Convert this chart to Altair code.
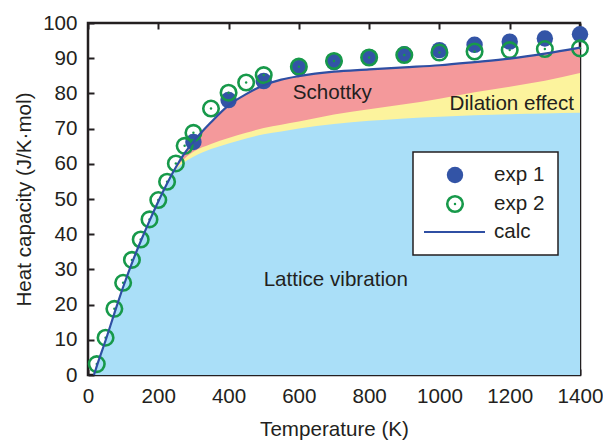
import altair as alt
import pandas as pd

# ---- data ----
T_calc = [17, 25, 50, 75, 100, 125, 150, 175, 200, 225, 250, 275, 300, 350, 400,
          450, 500, 550, 600, 700, 800, 900, 1000, 1100, 1200, 1300, 1400]
calc = [0, 2.5, 9.8, 17.5, 25.0, 31.8, 38.0, 43.8, 49.3, 54.4, 59.0, 63.0, 66.3,
        71.8, 76.6, 79.8, 82.3, 83.9, 84.9, 86.2, 86.8, 87.4, 88.0, 88.9, 89.9, 91.3, 93.0]
lattice_dilation = [0, 2.5, 9.8, 17.5, 25.0, 31.8, 38.0, 43.8, 49.3, 54.4, 58.8, 61.5,
                    63.4, 65.6, 67.3, 68.8, 70.2, 71.1, 72.0, 74.0, 75.5, 76.9, 78.5,
                    80.3, 81.9, 83.6, 85.8]
lattice = [0, 2.5, 9.8, 17.5, 25.0, 31.8, 38.0, 43.8, 49.3, 54.3, 58.3, 60.5, 62.0,
           64.2, 65.8, 67.2, 68.4, 69.2, 70.0, 71.3, 72.2, 72.9, 73.4, 73.8, 74.1, 74.3, 74.5]

T_exp1 = [300, 400, 500, 600, 700, 800, 900, 1000, 1100, 1200, 1300, 1400]
exp1 = [66.2, 78.1, 83.5, 87.2, 88.9, 90.3, 91.1, 92.3, 93.8, 94.7, 95.6, 96.8]

T_exp2 = [25, 50, 75, 100, 125, 150, 175, 200, 225, 250, 275, 300, 350, 400, 450, 500,
          600, 700, 800, 900, 1000, 1100, 1200, 1300, 1400]
exp2 = [3.1, 10.6, 18.8, 26.2, 32.7, 38.5, 44.2, 49.7, 54.9, 60.1, 65.1, 68.8, 75.7,
        80.2, 83.1, 85.2, 87.6, 89.2, 90.2, 90.9, 91.6, 91.9, 92.3, 92.6, 92.8]

ann_center_text = ["Schottky", "Lattice vibration"]
ann_center_T = [695, 705]
ann_center_v = [80.1, 27.1]
ann_right_text = ["Dilation effect"]
ann_right_T = [1383]
ann_right_v = [77.0]

x_ticks = [0, 200, 400, 600, 800, 1000, 1200, 1400]
y_ticks = [0, 10, 20, 30, 40, 50, 60, 70, 80, 90, 100]

# ---- styling ----
dark = "#231f20"
font = "Liberation Sans"
fs = 20.6
c_pink = "#f4999b"
c_yellow = "#fcf39d"
c_blue = "#aadff8"
c_line = "#2f4fa3"
c_exp1 = "#3354a6"
c_exp2 = "#17994a"

df_calc = pd.DataFrame({"T": T_calc, "calc": calc, "ld": lattice_dilation, "lat": lattice})
df_e1 = pd.DataFrame({"T": T_exp1, "v": exp1})
df_e2 = pd.DataFrame({"T": T_exp2, "v": exp2})
df_annc = pd.DataFrame({"T": ann_center_T, "v": ann_center_v, "label": ann_center_text})
df_annr = pd.DataFrame({"T": ann_right_T, "v": ann_right_v, "label": ann_right_text})
one = pd.DataFrame({"a": [0]})

xs = alt.Scale(domain=[0, 1400], nice=False, zero=False)
ys = alt.Scale(domain=[0, 100], nice=False)

axis_common = dict(domain=False, grid=False, ticks=True, tickSize=6, tickWidth=2,
                   tickColor=dark, offset=-6, labelFont=font, labelFontSize=fs,
                   labelColor=dark, titleFont=font, titleFontSize=fs,
                   titleFontWeight="normal", titleColor=dark, labelOverlap=False,
                   labelFlush=False, format="d")

x_bottom = alt.Axis(orient="bottom", values=x_ticks, title="Temperature (K)",
                    labelPadding=11, titlePadding=13, **axis_common)
x_top = alt.Axis(orient="top", values=x_ticks, labels=False, title=None, **axis_common)
y_left = alt.Axis(orient="left", values=y_ticks, title="Heat capacity (J/K·mol)",
                  labelPadding=11, titlePadding=8, **axis_common)

pink = alt.Chart(df_calc).mark_area(color=c_pink, interpolate="monotone").encode(
    x=alt.X("T:Q", scale=xs, axis=x_bottom),
    y=alt.Y("calc:Q", scale=ys, axis=y_left),
)
yellow = alt.Chart(df_calc).mark_area(color=c_yellow, interpolate="monotone").encode(
    x=alt.X("T:Q", scale=xs, axis=None),
    y=alt.Y("ld:Q", scale=ys, axis=None),
)
blue = alt.Chart(df_calc).mark_area(color=c_blue, interpolate="monotone").encode(
    x=alt.X("T:Q", scale=xs, axis=x_top),
    y=alt.Y("lat:Q", scale=ys, axis=None),
)
line = alt.Chart(df_calc).mark_line(color=c_line, strokeWidth=2.2, interpolate="monotone").encode(
    x=alt.X("T:Q", scale=xs, axis=None),
    y=alt.Y("calc:Q", scale=ys, axis=None),
)
p1 = alt.Chart(df_e1).mark_circle(color=c_exp1, size=270, opacity=1).encode(
    x=alt.X("T:Q", scale=xs, axis=None),
    y=alt.Y("v:Q", scale=ys, axis=None),
)
p2 = alt.Chart(df_e2).mark_point(shape="circle", color=c_exp2, size=240, strokeWidth=2.6,
                                 filled=False, opacity=1).encode(
    x=alt.X("T:Q", scale=xs, axis=None),
    y=alt.Y("v:Q", scale=ys, axis=None),
)
p2dot = alt.Chart(df_e2).mark_circle(color=c_exp2, size=6, opacity=1).encode(
    x=alt.X("T:Q", scale=xs, axis=None),
    y=alt.Y("v:Q", scale=ys, axis=None),
)
annc = alt.Chart(df_annc).mark_text(font=font, fontSize=fs, color=dark, baseline="middle",
                                    align="center").encode(
    x=alt.X("T:Q", scale=xs, axis=None),
    y=alt.Y("v:Q", scale=ys, axis=None),
    text="label:N",
)
annr = alt.Chart(df_annr).mark_text(font=font, fontSize=fs, color=dark, baseline="middle",
                                    align="right").encode(
    x=alt.X("T:Q", scale=xs, axis=None),
    y=alt.Y("v:Q", scale=ys, axis=None),
    text="label:N",
)

# ---- legend box (drawn in pixel space) ----
leg_box = alt.Chart(one).mark_rect(fill="white", stroke=dark, strokeWidth=1.5).encode(
    x=alt.value(325), x2=alt.value(470), y=alt.value(129), y2=alt.value(232))
leg_p1 = alt.Chart(one).mark_circle(color=c_exp1, size=270, opacity=1).encode(
    x=alt.value(367), y=alt.value(152))
leg_p2 = alt.Chart(one).mark_point(shape="circle", color=c_exp2, size=240, strokeWidth=2.6,
                                   filled=False, opacity=1).encode(x=alt.value(367), y=alt.value(181))
leg_p2d = alt.Chart(one).mark_circle(color=c_exp2, size=6, opacity=1).encode(
    x=alt.value(367), y=alt.value(181))
leg_line = alt.Chart(one).mark_rule(color=c_line, strokeWidth=2.2).encode(
    x=alt.value(336), x2=alt.value(397), y=alt.value(209))
leg_t1 = alt.Chart(one).mark_text(font=font, fontSize=fs, color=dark, align="left",
                                  baseline="middle").encode(
    x=alt.value(406), y=alt.value(152), text=alt.value("exp 1"))
leg_t2 = alt.Chart(one).mark_text(font=font, fontSize=fs, color=dark, align="left",
                                  baseline="middle").encode(
    x=alt.value(406), y=alt.value(181), text=alt.value("exp 2"))
leg_t3 = alt.Chart(one).mark_text(font=font, fontSize=fs, color=dark, align="left",
                                  baseline="middle").encode(
    x=alt.value(406), y=alt.value(209), text=alt.value("calc"))

chart = alt.layer(
    pink, yellow, blue, p1, p2, p2dot, line, annc, annr,
    leg_box, leg_p1, leg_p2, leg_p2d, leg_line, leg_t1, leg_t2, leg_t3,
).resolve_axis(x="independent", y="independent").properties(
    width=492, height=352,
    padding={"left": 80, "top": 15, "right": 23, "bottom": 67},
    autosize=alt.AutoSizeParams(type="none"),
    background="white",
).configure_view(stroke=dark, strokeWidth=2.5)

chart.save("out.html", embed_options={"renderer": "svg", "actions": False})
